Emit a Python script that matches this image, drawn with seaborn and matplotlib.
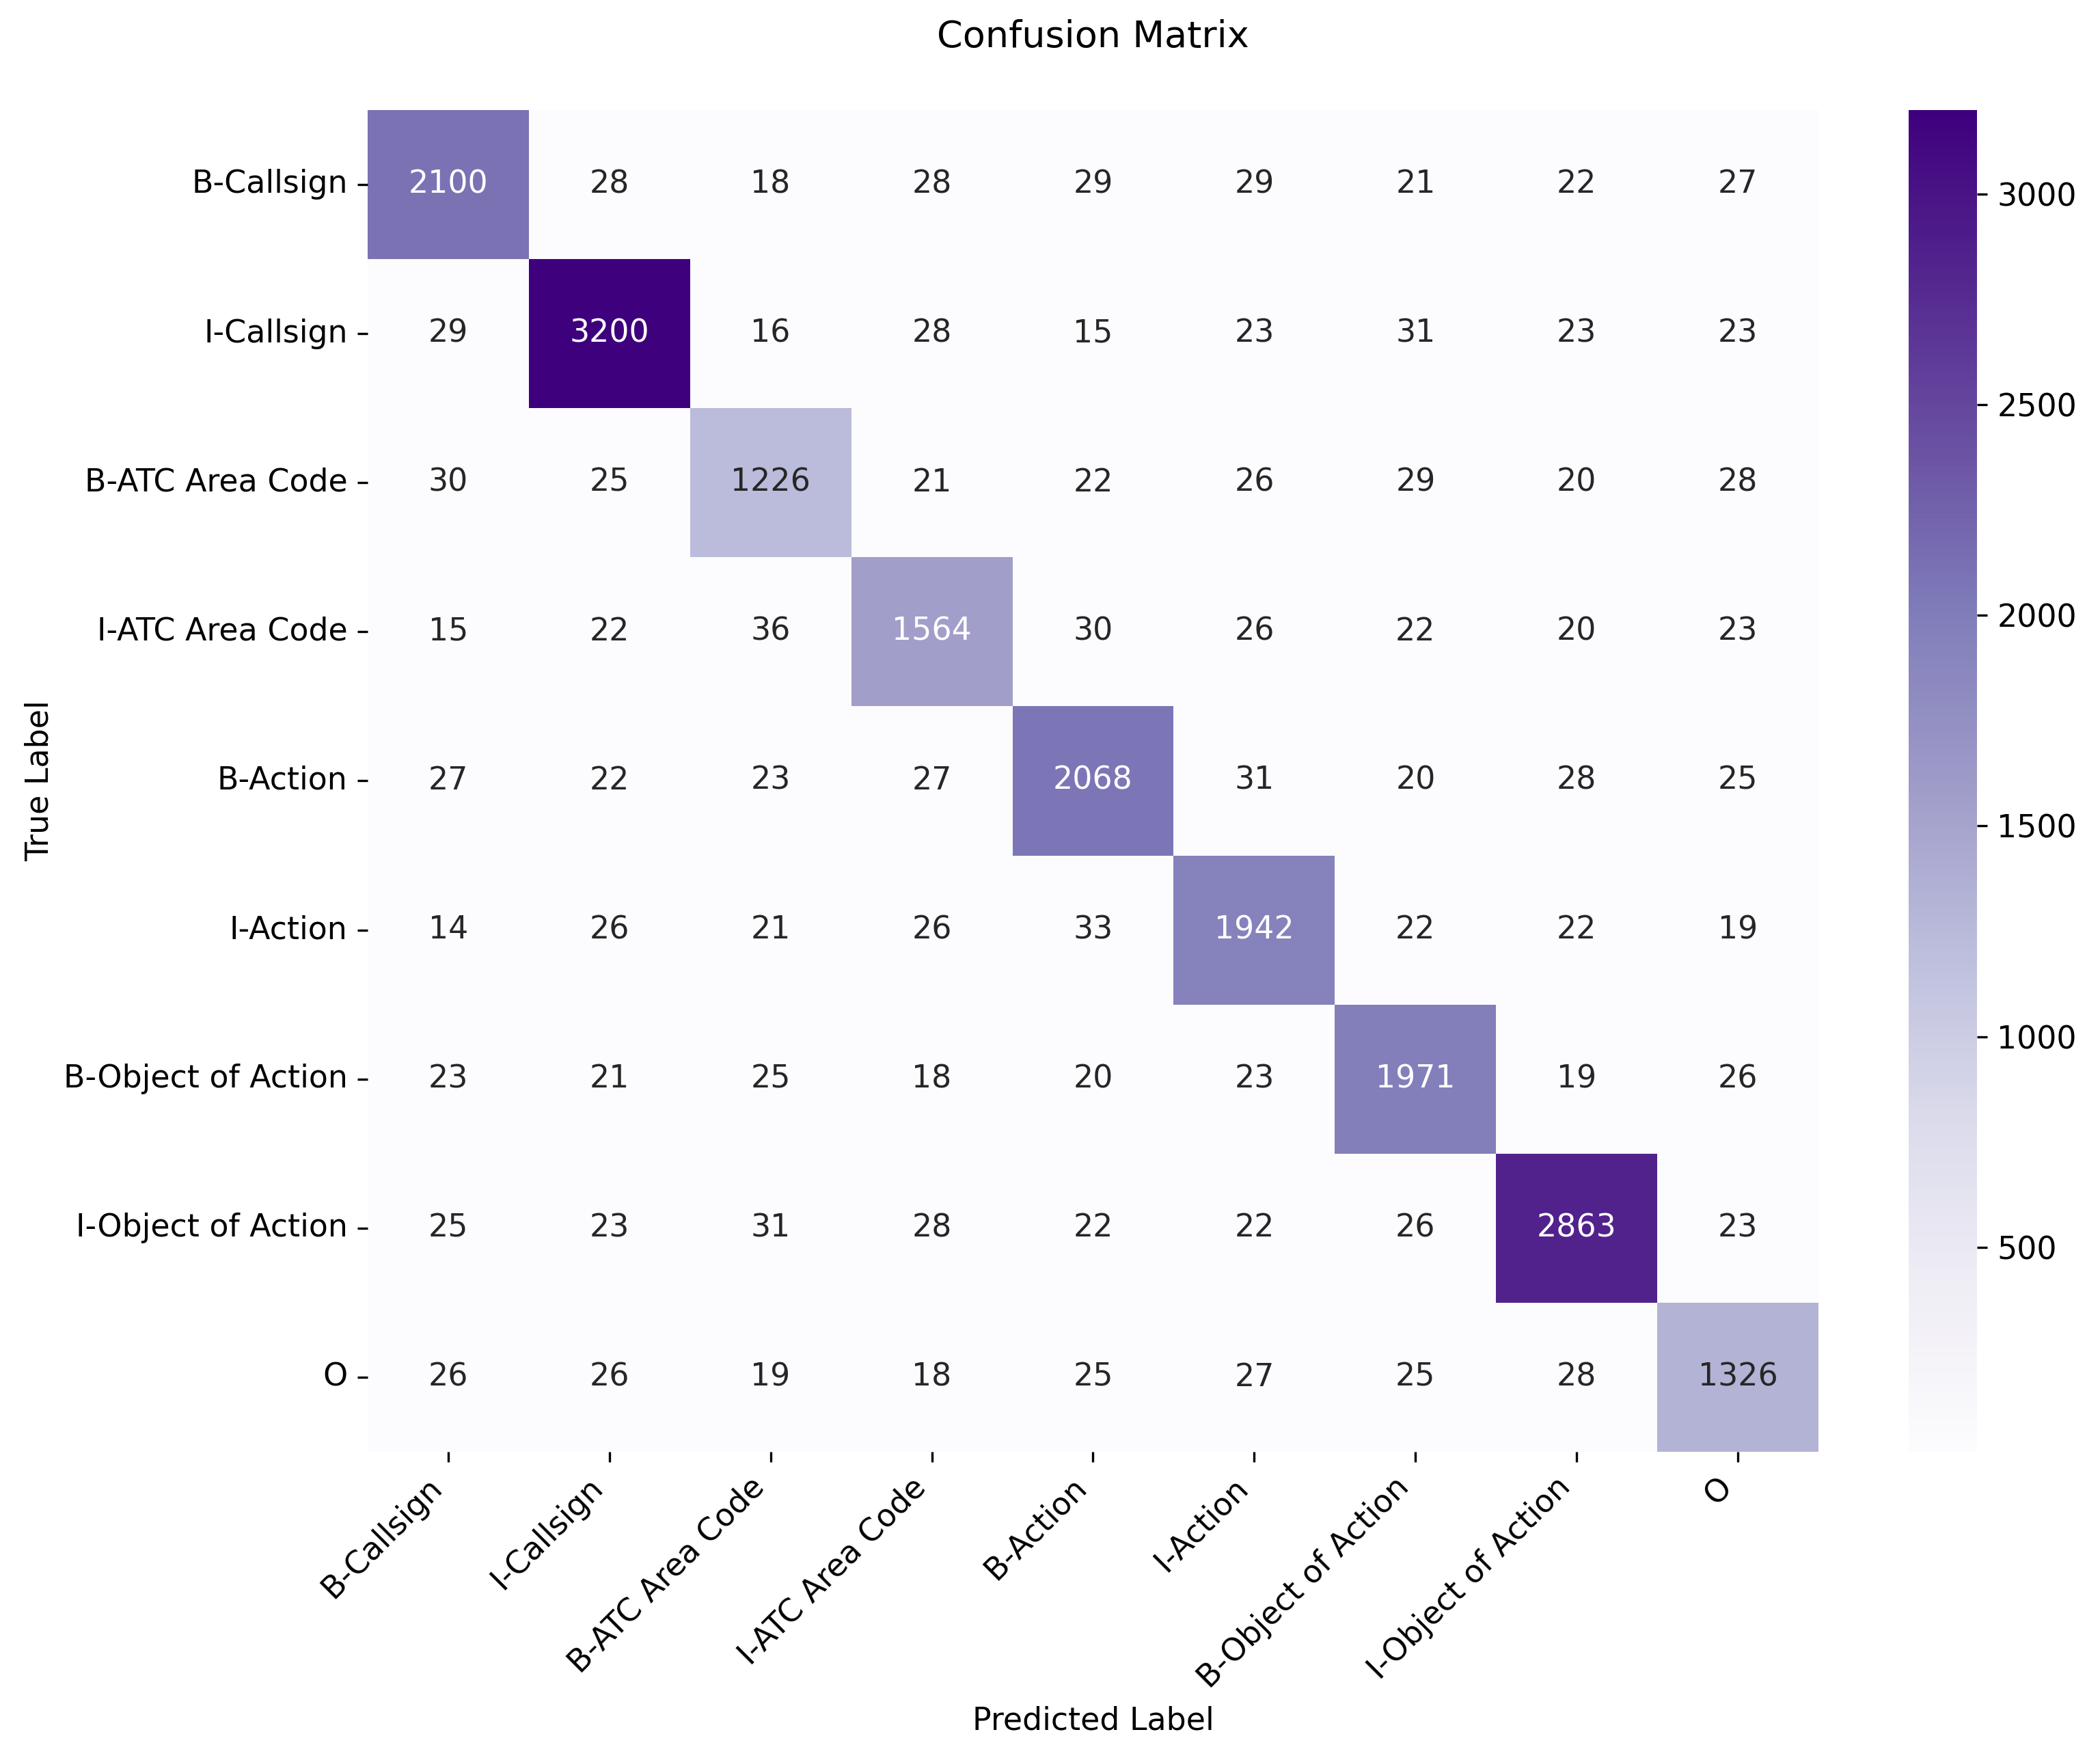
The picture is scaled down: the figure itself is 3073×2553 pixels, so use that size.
import numpy as np
import pandas as pd
import matplotlib
matplotlib.use("Agg")
import matplotlib.pyplot as plt
import seaborn as sns

labels = ["B-Callsign", "I-Callsign", "B-ATC Area Code", "I-ATC Area Code",
          "B-Action", "I-Action", "B-Object of Action", "I-Object of Action", "O"]

row_b_callsign = [2100, 28, 18, 28, 29, 29, 21, 22, 27]
row_i_callsign = [29, 3200, 16, 28, 15, 23, 31, 23, 23]
row_b_atc = [30, 25, 1226, 21, 22, 26, 29, 20, 28]
row_i_atc = [15, 22, 36, 1564, 30, 26, 22, 20, 23]
row_b_action = [27, 22, 23, 27, 2068, 31, 20, 28, 25]
row_i_action = [14, 26, 21, 26, 33, 1942, 22, 22, 19]
row_b_obj = [23, 21, 25, 18, 20, 23, 1971, 19, 26]
row_i_obj = [25, 23, 31, 28, 22, 22, 26, 2863, 23]
row_o = [26, 26, 19, 18, 25, 27, 25, 28, 1326]

cm = pd.DataFrame([row_b_callsign, row_i_callsign, row_b_atc, row_i_atc,
                   row_b_action, row_i_action, row_b_obj, row_i_obj, row_o],
                  index=labels, columns=labels)

plt.rcParams['font.family'] = ['DejaVu Sans']
fig = plt.figure(figsize=(3073 / 300, 2553 / 300), dpi=300)
ax = fig.add_axes([0.175, 0.168, 0.691, 0.769])
cax = fig.add_axes([0.909, 0.168, 0.0325, 0.769])

sns.heatmap(cm, annot=True, fmt="d", cmap="Purples", ax=ax, cbar_ax=cax,
            annot_kws={"fontsize": 11})
ax.set_title("Confusion Matrix", fontsize=13, pad=22)
ax.set_xlabel("Predicted Label", fontsize=11, labelpad=4)
ax.set_ylabel("True Label", fontsize=11, labelpad=3)
ax.set_xticklabels(ax.get_xticklabels(), rotation=45, ha="right", fontsize=11)
ax.set_yticklabels(ax.get_yticklabels(), rotation=0, fontsize=11)
cax.tick_params(labelsize=11)

fig.savefig("out.png", dpi=300)
